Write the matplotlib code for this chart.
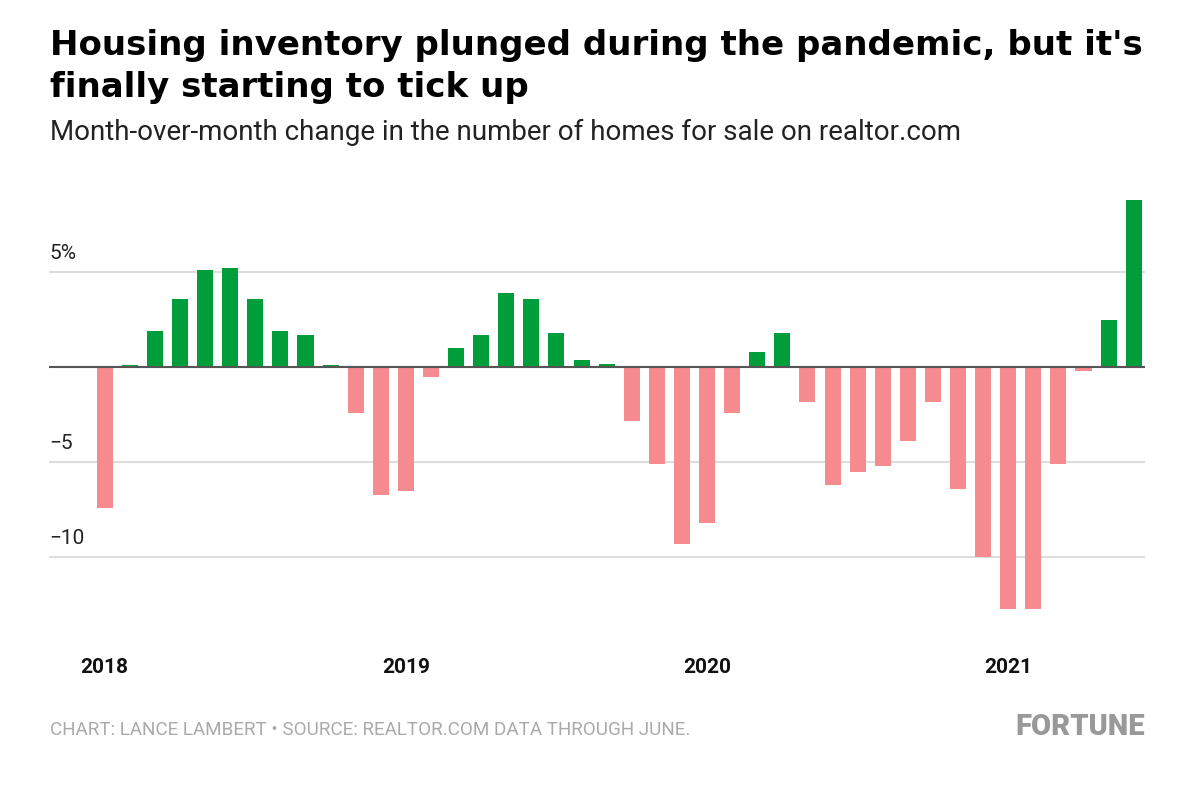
import matplotlib.pyplot as plt
import numpy as np

months = [
    'Jan 2018', 'Feb 2018', 'Mar 2018', 'Apr 2018', 'May 2018', 'Jun 2018',
    'Jul 2018', 'Aug 2018', 'Sep 2018', 'Oct 2018', 'Nov 2018', 'Dec 2018',
    'Jan 2019', 'Feb 2019', 'Mar 2019', 'Apr 2019', 'May 2019', 'Jun 2019',
    'Jul 2019', 'Aug 2019', 'Sep 2019', 'Oct 2019', 'Nov 2019', 'Dec 2019',
    'Jan 2020', 'Feb 2020', 'Mar 2020', 'Apr 2020', 'May 2020', 'Jun 2020',
    'Jul 2020', 'Aug 2020', 'Sep 2020', 'Oct 2020', 'Nov 2020', 'Dec 2020',
    'Jan 2021', 'Feb 2021', 'Mar 2021', 'Apr 2021', 'May 2021', 'Jun 2021',
]

change = [
    -7.4, 0.1, 1.9, 3.6, 5.1, 5.2, 3.6, 1.9, 1.7, 0.1, -2.4, -6.7,
    -6.5, -0.5, 1.0, 1.7, 3.9, 3.6, 1.8, 0.4, 0.2, -2.8, -5.1, -9.3,
    -8.2, -2.4, 0.8, 1.8, -1.8, -6.2, -5.5, -5.2, -3.9, -1.8, -6.4, -10.0,
    -12.7, -12.7, -5.1, -0.2, 2.5, 8.8,
]

year_labels = ['2018', '2019', '2020', '2021']
year_months = ['Jan 2018', 'Jan 2019', 'Jan 2020', 'Jan 2021']

y_ticks = [5, -5, -10]
y_tick_labels = ['5%', '\u22125', '\u221210']

green = '#009E3B'
pink = '#F68B8F'

plt.rcParams['font.family'] = ['Roboto', 'DejaVu Sans']

fig = plt.figure(figsize=(11.99, 7.86), dpi=100)
W, H = 1199, 786

ax = fig.add_axes([49 / W, 1 - 640 / H, (1145 - 49) / W, (640 - 190) / H])

x = np.arange(len(months))
vals = np.array(change)
colors = [green if v >= 0 else pink for v in vals]
ax.bar(x, vals, width=0.64, color=colors, zorder=3)

ax.set_xlim(-2.22, 41.45)
ax.set_ylim(-14.35, 9.33)

for t in y_ticks:
    ax.axhline(t, color='#dddddd', lw=1.5, zorder=1)
ax.axhline(0, color='#555555', lw=1.5, zorder=4)

for t, lab in zip(y_ticks, y_tick_labels):
    ax.text(0.0, t + 0.5, lab, transform=ax.get_yaxis_transform(),
            ha='left', va='bottom', fontsize=15, color='#222222')

for lab, m in zip(year_labels, year_months):
    ax.text(months.index(m), -15.8, lab, ha='center', va='center',
            fontsize=15, fontweight='bold', color='#111111', clip_on=False)

ax.set_axis_off()

title_font = ['DejaVu Sans']
fig.text(50 / W, 1 - 45 / H, "Housing inventory plunged during the pandemic, but it's",
         fontsize=24.5, fontweight='bold', family=title_font, color='#000000',
         va='center', ha='left')
fig.text(50 / W, 1 - 88 / H, "finally starting to tick up",
         fontsize=24.5, fontweight='bold', family=title_font, color='#000000',
         va='center', ha='left')
fig.text(50 / W, 1 - 132 / H, "Month-over-month change in the number of homes for sale on realtor.com",
         fontsize=20, color='#222222', va='center', ha='left')

fig.text(50 / W, 1 - 730 / H,
         "CHART: LANCE LAMBERT \u2022 SOURCE: REALTOR.COM DATA THROUGH JUNE.",
         fontsize=13.6, color='#aaaaaa', va='center', ha='left')
fig.text(1145 / W, 1 - 727 / H, "FORTUNE", fontsize=21, fontweight='black',
         color='#999999', va='center', ha='right')

fig.savefig('out.png', dpi=100)
